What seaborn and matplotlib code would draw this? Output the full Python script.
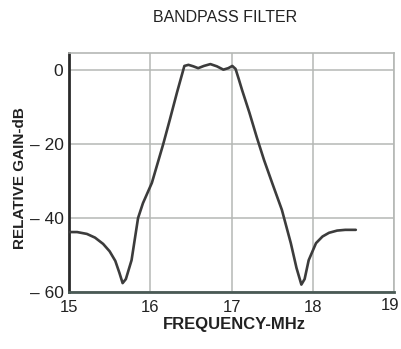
import matplotlib
matplotlib.use("Agg")
import matplotlib.pyplot as plt
import matplotlib.transforms as mtransforms
import seaborn as sns
import pandas as pd

freq_mhz = [15.0, 15.1, 15.22, 15.32, 15.42, 15.5, 15.57, 15.62, 15.66, 15.7,
            15.77, 15.85, 15.91, 16.02, 16.1, 16.16, 16.24, 16.33, 16.42, 16.47,
            16.53, 16.59, 16.66, 16.74, 16.82, 16.9, 16.96, 17.01, 17.05, 17.09,
            17.13, 17.22, 17.31, 17.4, 17.5, 17.62, 17.73, 17.8, 17.86, 17.9,
            17.95, 18.04, 18.12, 18.2, 18.3, 18.4, 18.53]
gain_db = [-43.8, -43.8, -44.3, -45.3, -47.0, -49.0, -51.6, -54.8, -57.6, -56.5,
           -51.4, -40.0, -36.0, -30.5, -24.5, -20.0, -13.5, -6.0, 1.1, 1.4,
           1.0, 0.5, 1.1, 1.6, 1.0, 0.1, 0.5, 1.1, 0.3, -2.5,
           -5.4, -11.5, -18.1, -24.3, -30.5, -37.8, -46.8, -53.5, -58.0, -56.5,
           -51.4, -46.8, -45.0, -44.0, -43.4, -43.2, -43.2]

x_ticks = [15, 16, 17, 18, 19]
x_labels = ["15", "16", "17", "18", "19"]
y_ticks = [0, -20, -40, -60]
y_labels = ["0", "\u2013 20", "\u2013 40", "\u2013 60"]

sns.set_style("white")
plt.rcParams['font.family'] = ['Liberation Sans', 'DejaVu Sans']

df = pd.DataFrame({"freq": freq_mhz, "gain": gain_db})

fig = plt.figure(figsize=(4.02, 3.49), dpi=100)
ax = fig.add_axes([69/402, 1-292/349, (394-69)/402, (292-53)/349])

sns.lineplot(data=df, x="freq", y="gain", ax=ax, color="#3c3c3c", linewidth=1.9,
             sort=False, zorder=3)

ax.set_xlim(15, 19)
ax.set_ylim(-60, 4.6)
ax.set_xticks(x_ticks)
ax.set_xticklabels(x_labels, fontsize=12)
ax.set_yticks(y_ticks)
ax.set_yticklabels(y_labels, fontsize=12.5)
ax.grid(True, color="#b5b8b5", linewidth=1.1)

for side in ["top", "right"]:
    ax.spines[side].set_visible(True)
    ax.spines[side].set_color("#b5b8b5")
    ax.spines[side].set_linewidth(1.2)
ax.spines["left"].set_color("#2a2a2a")
ax.spines["left"].set_linewidth(2.0)
ax.spines["bottom"].set_color("#4a5a55")
ax.spines["bottom"].set_linewidth(2.0)
ax.tick_params(axis="both", which="both", length=3, width=1.2, color="#444444",
               direction="out", labelcolor="#222222")
ax.tick_params(axis="x", pad=3)
ax.tick_params(axis="y", pad=1)

# nudge the last x tick label inward so it stays inside the figure
last = ax.get_xticklabels()[-1]
last.set_transform(last.get_transform() +
                   mtransforms.ScaledTranslation(-4/100, 2/100, fig.dpi_scale_trans))

ax.set_xlabel("FREQUENCY-MHz", fontsize=12, fontweight="bold", color="#222222")
ax.xaxis.set_label_coords((234-69)/325, (292-324)/239)
ax.xaxis.label.set_va("center")
ax.set_ylabel("RELATIVE GAIN-dB", fontsize=11, fontweight="bold", color="#222222")
ax.yaxis.set_label_coords((20-69)/325, (292-178)/239)
ax.yaxis.label.set_va("center")
fig.text(225/402, 1-18/349, "BANDPASS FILTER", fontsize=11.5, ha="center", va="center",
         color="#222222")

fig.savefig("out.png", dpi=100, facecolor="white")
